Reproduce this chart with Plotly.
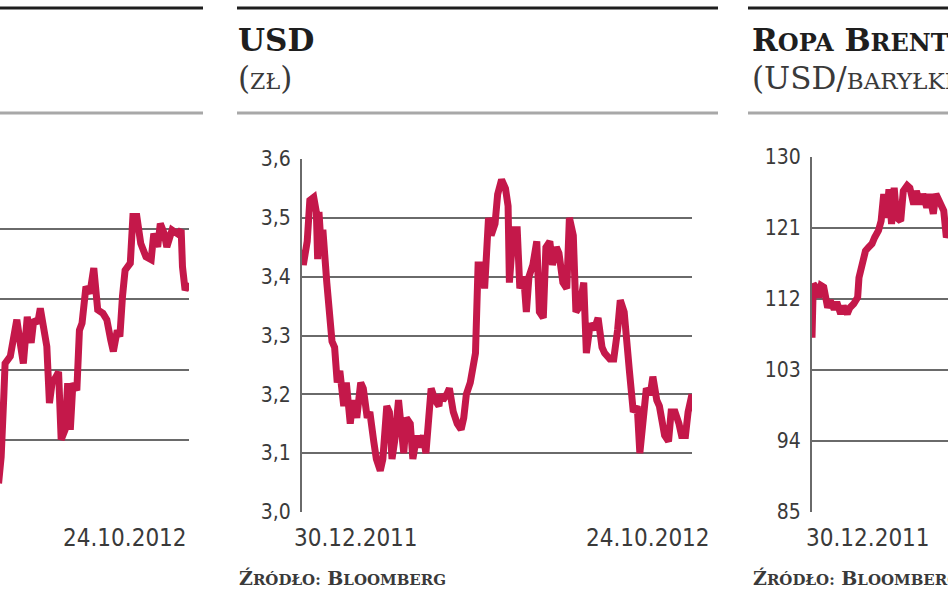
import pandas as pd
import plotly.graph_objects as go

W, H = 948, 593
BASE = pd.Timestamp("2011-12-30")
END_DAY = 299  # 24.10.2012

# ---------------- data ----------------
# left panel (only its right part is visible in the crop)
left_days = [153, 155, 157, 158, 162, 165, 167, 170, 172, 175, 178, 180, 183, 185, 188, 190,
             192, 194, 197, 199, 201, 204, 206, 208, 210, 213, 215, 217, 220, 223, 226, 229,
             233, 236, 239, 241, 244, 246, 248, 250, 254, 256, 259, 262, 266, 270, 272, 275,
             277, 280, 282, 286, 290, 293, 294, 296, 299]
left_vals = [2039, 2077, 2162, 2209, 2219, 2256, 2271, 2233, 2209, 2275, 2238, 2271, 2266, 2287,
             2256, 2233, 2153, 2181, 2190, 2197, 2101, 2115, 2181, 2115, 2181, 2171, 2256, 2266,
             2318, 2308, 2344, 2285, 2280, 2271, 2242, 2226, 2256, 2247, 2304, 2341, 2351, 2417,
             2417, 2379, 2360, 2356, 2393, 2374, 2407, 2393, 2374, 2398, 2393, 2398, 2346, 2313,
             2323]

# USD (zł)
usd_days = [0, 1, 4, 6, 9, 11, 12, 13, 15, 16, 19, 21, 23, 25, 27, 29, 32, 34, 37, 39, 42, 45,
            47, 50, 52, 55, 57, 60, 62, 65, 67, 69, 71, 74, 76, 78, 80, 83, 85, 88, 90, 93, 95,
            97, 99, 102, 105, 106, 108, 111, 113, 116, 119, 122, 124, 126, 129, 133, 135, 138,
            140, 143, 145, 148, 150, 153, 156, 158, 159, 162, 165, 167, 170, 172, 174, 177, 180,
            182, 185, 187, 190, 192, 195, 197, 200, 203, 205, 208, 210, 213, 216, 218, 221, 224,
            227, 230, 232, 236, 239, 242, 244, 247, 249, 251, 254, 257, 259, 262, 264, 267, 269,
            272, 274, 278, 281, 283, 286, 289, 291, 294, 296, 299]
usd_vals = [3.446, 3.42, 3.46, 3.53, 3.535, 3.51, 3.43, 3.51, 3.44, 3.48, 3.39, 3.33, 3.29, 3.28,
            3.22, 3.24, 3.18, 3.22, 3.15, 3.19, 3.16, 3.22, 3.21, 3.16, 3.17, 3.12, 3.09, 3.07,
            3.09, 3.18, 3.17, 3.09, 3.12, 3.19, 3.13, 3.10, 3.16, 3.15, 3.09, 3.13, 3.11, 3.13,
            3.10, 3.18, 3.21, 3.19, 3.18, 3.20, 3.19, 3.20, 3.21, 3.17, 3.15, 3.14, 3.16, 3.20,
            3.22, 3.27, 3.42, 3.42, 3.38, 3.50, 3.47, 3.49, 3.54, 3.565, 3.55, 3.52, 3.39, 3.48,
            3.48, 3.38, 3.40, 3.34, 3.40, 3.42, 3.46, 3.34, 3.33, 3.45, 3.46, 3.42, 3.45, 3.44,
            3.39, 3.38, 3.50, 3.47, 3.34, 3.35, 3.39, 3.27, 3.32, 3.31, 3.33, 3.28, 3.27, 3.26,
            3.26, 3.31, 3.36, 3.34, 3.30, 3.24, 3.17, 3.18, 3.10, 3.17, 3.21, 3.20, 3.23, 3.19,
            3.18, 3.13, 3.12, 3.17, 3.17, 3.15, 3.13, 3.13, 3.17, 3.20]

# Ropa Brent (USD/baryłkę) - only its left part is visible in the crop
brent_days = [0, 1, 3, 5, 7, 9, 12, 14, 17, 19, 22, 24, 27, 29, 32, 35, 36, 38, 41, 43, 46, 48,
              51, 53, 55, 57, 59, 61, 63, 65, 68, 70, 73, 75, 78, 80, 83, 85, 88, 90, 93, 95,
              98, 101, 103, 105]
brent_vals = [107.1, 113.9, 113.5, 112.2, 113.7, 113.5, 110.9, 111.8, 110.7, 111.6, 110.1, 111.1,
              110.1, 110.9, 111.4, 112.2, 114.7, 116.4, 118.1, 118.5, 119.0, 119.8, 120.7, 121.9,
              125.3, 122.3, 125.9, 121.5, 126.1, 122.3, 121.9, 125.7, 126.4, 126.1, 124.0, 125.7,
              124.0, 125.3, 123.6, 125.3, 122.8, 125.3, 124.0, 123.2, 119.8, 120.7]

left_ticks = [2000, 2100, 2200, 2300, 2400, 2500]
usd_ticks = [3.0, 3.1, 3.2, 3.3, 3.4, 3.5, 3.6]
usd_ticktext = ["3,0", "3,1", "3,2", "3,3", "3,4", "3,5", "3,6"]
brent_ticks = [85, 94, 103, 112, 121, 130]
brent_ticktext = ["85", "94", "103", "112", "121", "130"]
start_label = "30.12.2011"
end_label = "24.10.2012"

# ---------------- style ----------------
RED = "#C4184A"
GRID = "#6a6a6a"
TXT = "#3a3a3a"
NUMFONT = "DejaVu Sans Condensed, Roboto Condensed, Liberation Sans Narrow, sans-serif"
SERIF = "DejaVu Serif, Liberation Serif, serif"


def d(days):
    return BASE + pd.to_timedelta(days, unit="D")


def ds(days):
    return d(days).strftime("%Y-%m-%d %H:%M:%S")


def px(xp):
    return xp / W


def py(yp):
    return 1 - yp / H


fig = go.Figure()
line = dict(color=RED, width=7)
fig.add_trace(go.Scatter(x=d(pd.Series(left_days)), y=left_vals, mode="lines", line=line,
                         xaxis="x", yaxis="y", hoverinfo="skip"))
fig.add_trace(go.Scatter(x=d(pd.Series(usd_days)), y=usd_vals, mode="lines", line=line,
                         xaxis="x2", yaxis="y2", hoverinfo="skip"))
fig.add_trace(go.Scatter(x=d(pd.Series(brent_days)), y=brent_vals, mode="lines", line=line,
                         xaxis="x3", yaxis="y3", hoverinfo="skip"))

xcommon = dict(showgrid=False, showticklabels=False, zeroline=False, showline=False, type="date",
               automargin=False)
ycommon = dict(showgrid=True, gridcolor=GRID, gridwidth=2, zeroline=False, ticks="", automargin=False,
               tickfont=dict(family=NUMFONT, size=21, color=TXT), ticklabelstandoff=5)

fig.update_layout(
    width=W, height=H, margin=dict(l=0, r=0, t=0, b=0, pad=0, autoexpand=False),
    paper_bgcolor="white", plot_bgcolor="white", showlegend=False,
    xaxis=dict(xcommon, domain=[0, px(189)], range=[ds(END_DAY - 189 * 299 / 390), ds(END_DAY)],
               anchor="y"),
    yaxis=dict(ycommon, domain=[py(511), py(158)], range=[2000, 2500.01], tickvals=left_ticks,
               showticklabels=False, showline=False, anchor="x"),
    xaxis2=dict(xcommon, domain=[px(302), px(692)], range=[ds(0), ds(END_DAY)], anchor="y2"),
    yaxis2=dict(ycommon, domain=[py(512), py(159)], range=[2.9999, 3.6001], tickvals=usd_ticks,
                ticktext=usd_ticktext, showline=True, linecolor=GRID, linewidth=2, anchor="x2"),
    xaxis3=dict(xcommon, domain=[px(812), 1], range=[ds(0), ds(136 * 299 / 390)], anchor="y3"),
    yaxis3=dict(ycommon, domain=[py(512), py(157)], range=[84.999, 130.001], tickvals=brent_ticks,
                ticktext=brent_ticktext, showline=True, linecolor=GRID, linewidth=2, anchor="x3"),
)

# header rules
shapes = []
for x0, x1 in [(0, 203), (237, 718), (748, 948)]:
    shapes.append(dict(type="line", xref="paper", yref="paper", x0=px(x0), x1=px(x1),
                       y0=py(8), y1=py(8), line=dict(color="#1e1e1e", width=3)))
    shapes.append(dict(type="line", xref="paper", yref="paper", x0=px(x0), x1=px(x1),
                       y0=py(113), y1=py(113), line=dict(color="#a8a8a8", width=3)))
fig.update_layout(shapes=shapes)

ann = []
# titles
ann.append(dict(xref="paper", yref="paper", x=px(236), y=py(40), xanchor="left", yanchor="middle",
                text="<b>USD</b>", showarrow=False,
                font=dict(family=SERIF, size=31, color="#1e1e1e")))
ann.append(dict(xref="paper", yref="paper", x=px(236), y=py(78), xanchor="left", yanchor="middle",
                text="(<span style='font-size:22px'>ZŁ</span>)", showarrow=False,
                font=dict(family=SERIF, size=31, color=TXT)))
ann.append(dict(xref="paper", yref="paper", x=px(750), y=py(40), xanchor="left", yanchor="middle",
                text="<b>R<span style='font-size:24px'>OPA</span> B<span style='font-size:24px'>RENT</span></b>",
                showarrow=False, font=dict(family=SERIF, size=31, color="#1e1e1e")))
ann.append(dict(xref="paper", yref="paper", x=px(750), y=py(78), xanchor="left", yanchor="middle",
                text="(USD/<span style='font-size:23px'>BARYŁKĘ</span>)", showarrow=False,
                font=dict(family=SERIF, size=31, color=TXT)))
# date labels
ann.append(dict(xref="x", yref="paper", x=ds(END_DAY), y=py(538), xanchor="right", yanchor="middle",
                text=end_label, showarrow=False, font=dict(family=NUMFONT, size=24, color=TXT)))
ann.append(dict(xref="x2", yref="paper", x=ds(0), y=py(538), xanchor="left", yanchor="middle",
                xshift=-10, text=start_label, showarrow=False,
                font=dict(family=NUMFONT, size=24, color=TXT)))
ann.append(dict(xref="x2", yref="paper", x=ds(END_DAY), y=py(538), xanchor="right", yanchor="middle",
                xshift=20, text=end_label, showarrow=False,
                font=dict(family=NUMFONT, size=24, color=TXT)))
ann.append(dict(xref="x3", yref="paper", x=ds(0), y=py(538), xanchor="left", yanchor="middle",
                xshift=-8, text=start_label, showarrow=False,
                font=dict(family=NUMFONT, size=24, color=TXT)))
# source
src = "<b>Ź<span style='font-size:15px'>RÓDŁO:</span> B<span style='font-size:15px'>LOOMBERG</span></b>"
for xs in (237, 751):
    ann.append(dict(xref="paper", yref="paper", x=px(xs), y=py(578), xanchor="left", yanchor="middle",
                    text=src, showarrow=False, font=dict(family=SERIF, size=19, color=TXT)))
fig.update_layout(annotations=ann)

fig.write_html("out.html", config={"displayModeBar": False},
               post_script="document.body.style.margin='0px';")
